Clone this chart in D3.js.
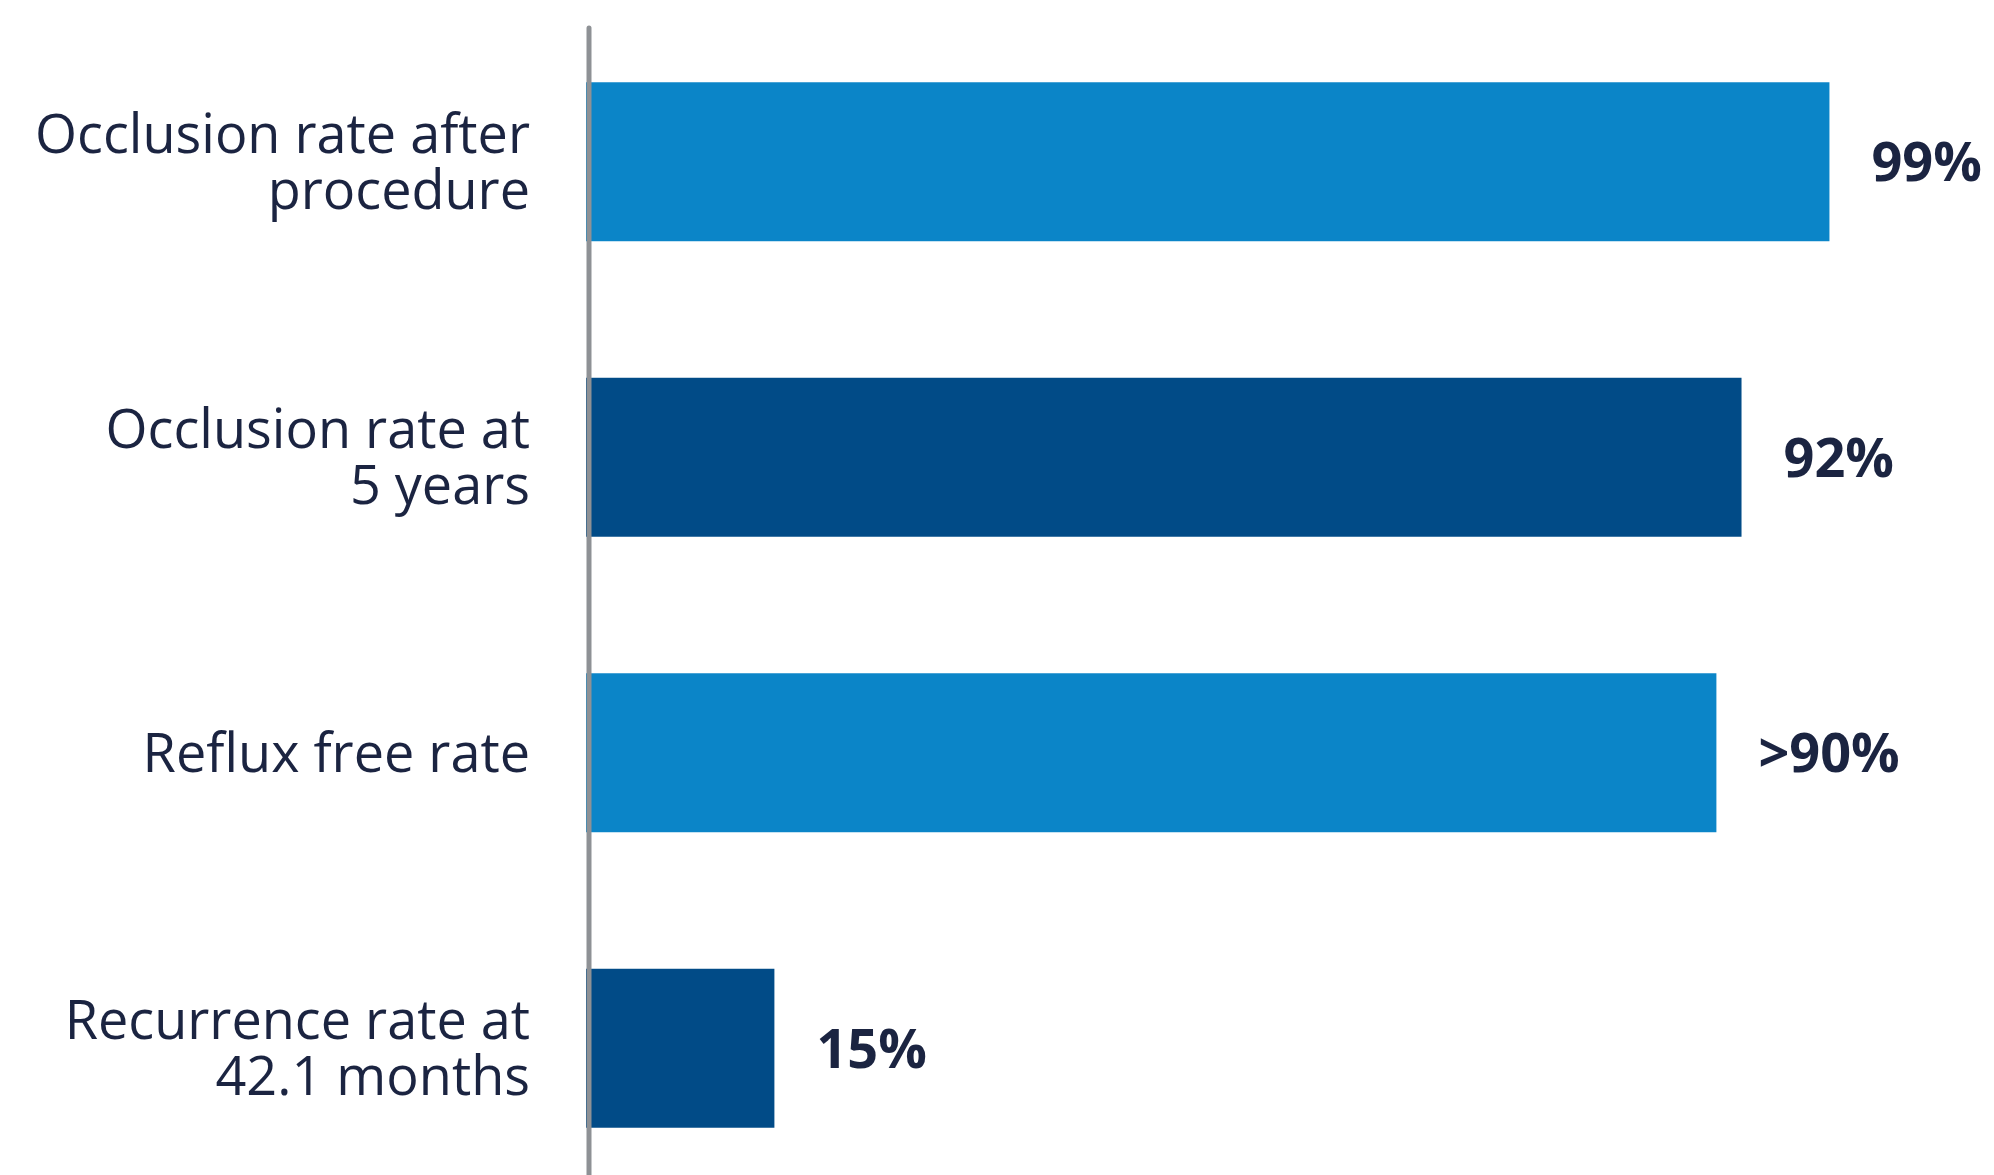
<!DOCTYPE html>
<html>
<head>
<meta charset="utf-8">
<script src="https://cdn.jsdelivr.net/npm/d3@7"></script>
<style>
  html, body { margin: 0; padding: 0; background: #ffffff; }
  svg { display: block; }
  .cat { font-family: "Open Sans", sans-serif; font-size: 54px; fill: #1b2441; }
  .val { font-family: "Open Sans", sans-serif; font-weight: 700; font-size: 54px; fill: #1b2441; }
</style>
</head>
<body>
<svg id="chart" width="1994" height="1175"></svg>
<script>
// Outcome measures (each category label split into its display lines)
const categories = [
  ["Occlusion rate after", "procedure"],
  ["Occlusion rate at", "5 years"],
  ["Reflux free rate"],
  ["Recurrence rate at", "42.1 months"]
];
const values = [99, 92, 90, 15];
const valuePrefixes = ["", "", ">", ""];
const barColors = ["#0b85c8", "#014b87", "#0b85c8", "#014b87"];

const width = 1994, height = 1175;
const svg = d3.select("#chart");

const keys = categories.map(c => c.join(" "));

const y = d3.scaleBand()
  .domain(keys)
  .range([14, 1196])
  .paddingInner(0.462)
  .paddingOuter(0.231);

const x = d3.scaleLinear()
  .domain([0, 100])
  .range([586, 1842]);

// Bars
svg.append("g")
  .selectAll("rect")
  .data(values)
  .join("rect")
  .attr("x", x(0))
  .attr("y", (d, i) => y(keys[i]))
  .attr("width", d => x(d) - x(0))
  .attr("height", y.bandwidth())
  .attr("fill", (d, i) => barColors[i]);

// Vertical baseline
svg.append("line")
  .attr("x1", 589).attr("x2", 589)
  .attr("y1", 28).attr("y2", height + 5)
  .attr("stroke", "#8e9195")
  .attr("stroke-width", 5)
  .attr("stroke-linecap", "round");

// Value labels
svg.append("g")
  .selectAll("text")
  .data(values)
  .join("text")
  .attr("class", "val")
  .attr("x", d => x(d) + 42)
  .attr("y", (d, i) => y(keys[i]) + y.bandwidth() / 2)
  .attr("dy", "0.36em")
  .text((d, i) => valuePrefixes[i] + d + "%");

// Category labels, right-aligned and vertically centred on their bars
const lineHeight = 56;
const catG = svg.append("g");
categories.forEach((lines, i) => {
  const cy = y(keys[i]) + y.bandwidth() / 2;
  const firstBaseline = cy - (lines.length - 1) * lineHeight / 2 + 19;
  const t = catG.append("text")
    .attr("class", "cat")
    .attr("text-anchor", "end");
  lines.forEach((ln, j) => {
    t.append("tspan")
      .attr("x", 530)
      .attr("y", firstBaseline + j * lineHeight)
      .text(ln);
  });
});
</script>
</body>
</html>
